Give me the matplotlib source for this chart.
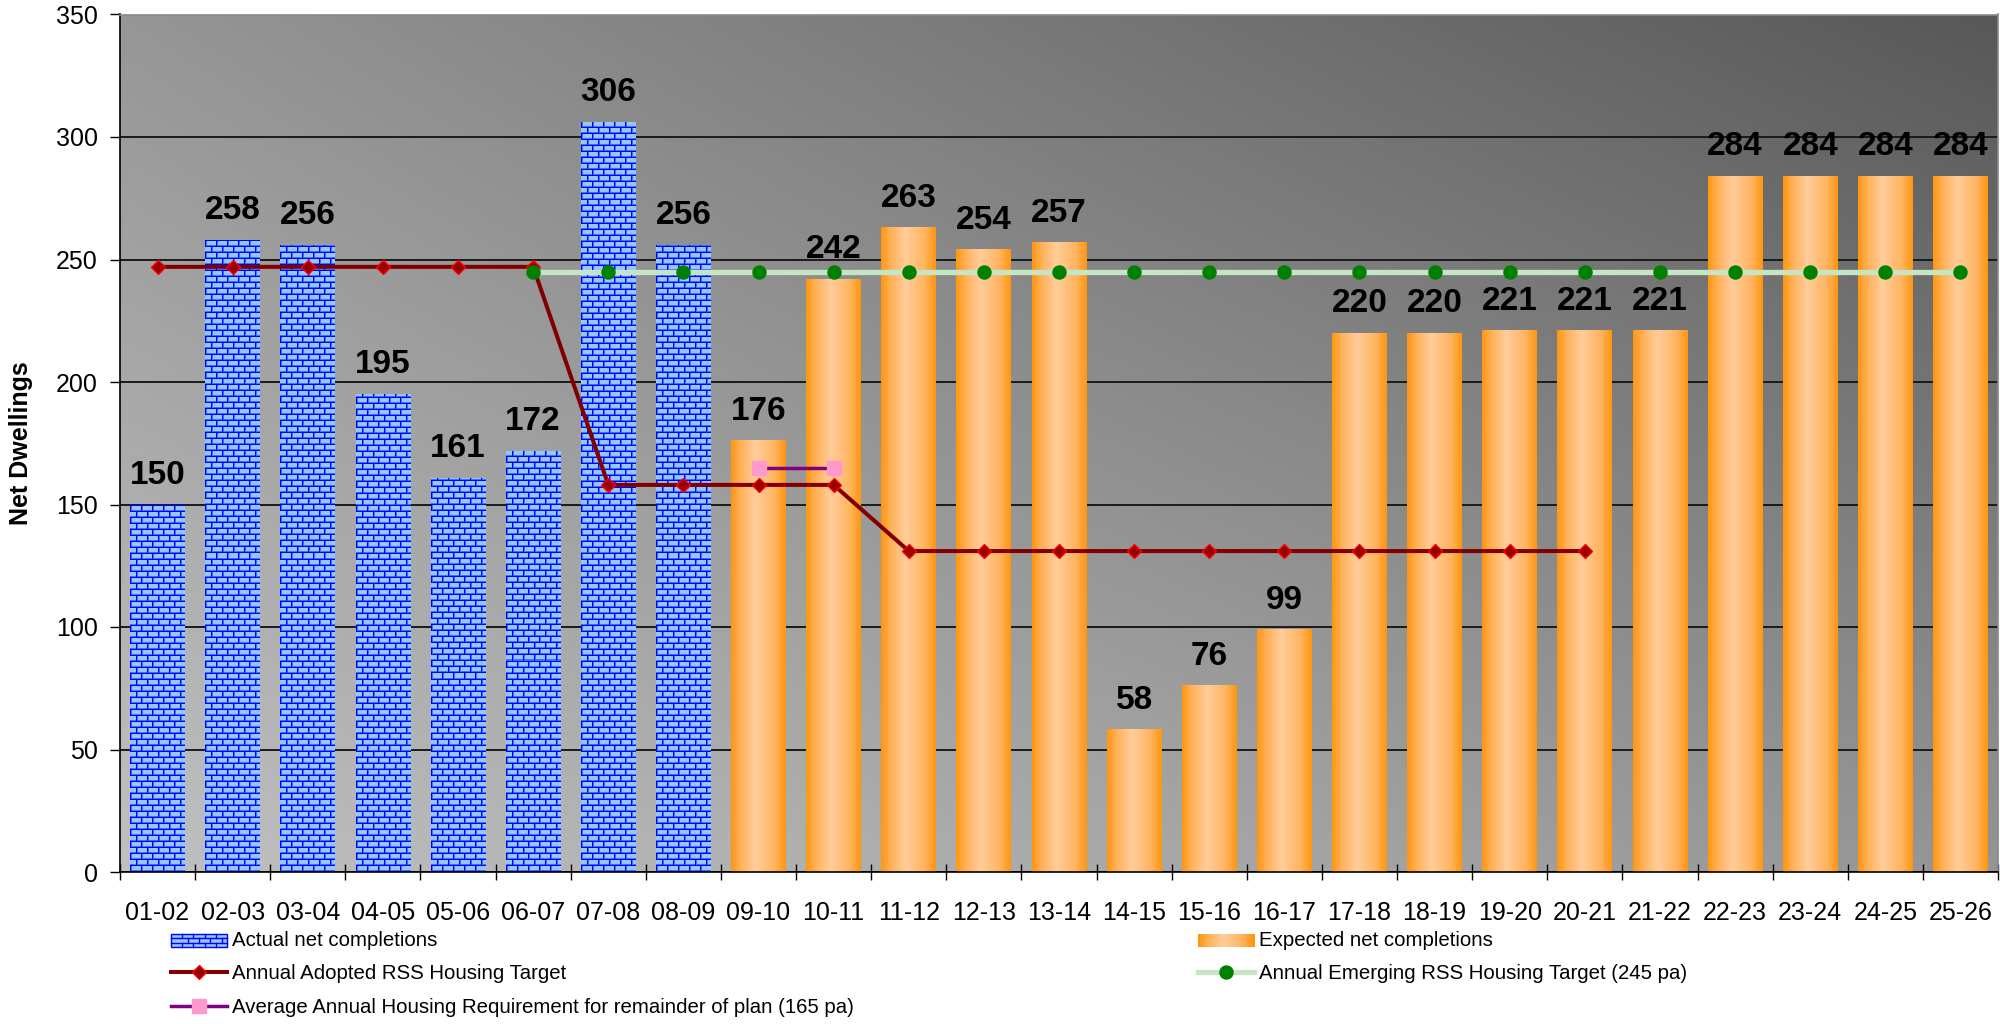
import matplotlib
matplotlib.use("Agg")
import matplotlib.pyplot as plt
import numpy as np
from matplotlib.lines import Line2D
from matplotlib.patches import Rectangle, Patch
from matplotlib.legend_handler import HandlerBase

plt.rcParams['font.family'] = ['Liberation Sans', 'DejaVu Sans']

years = ["01-02", "02-03", "03-04", "04-05", "05-06", "06-07", "07-08", "08-09",
         "09-10", "10-11", "11-12", "12-13", "13-14", "14-15", "15-16", "16-17",
         "17-18", "18-19", "19-20", "20-21", "21-22", "22-23", "23-24", "24-25", "25-26"]
actual = [150, 258, 256, 195, 161, 172, 306, 256]
expected = [176, 242, 263, 254, 257, 58, 76, 99, 220, 220, 221, 221, 221, 284, 284, 284, 284]
adopted_target = [247, 247, 247, 247, 247, 247, 158, 158, 158, 158,
                  131, 131, 131, 131, 131, 131, 131, 131, 131, 131]
emerging_target = [245, 245, 245, 245, 245, 245, 245, 245, 245, 245,
                   245, 245, 245, 245, 245, 245, 245, 245, 245, 245]
emerging_start = "06-07"
average_req = [165, 165]
average_start = "09-10"
y_ticks = [0, 50, 100, 150, 200, 250, 300, 350]

BRICK_FACE = np.array([150, 198, 255]) / 255
BRICK_MID = np.array([60, 110, 255]) / 255
BRICK_LINE = np.array([0, 0, 255]) / 255


def brick_texture(w, h, py=6, px=11):
    img = np.empty((h, w, 3))
    img[:] = BRICK_FACE
    rows = np.arange(h)[:, None] * np.ones((1, w), dtype=int)
    cols = np.ones((h, 1), dtype=int) * np.arange(w)[None, :]
    k = rows // py
    rr = rows % py
    cc = (cols + (k % 2) * (px // 2)) % px
    img[(rr == 1) | (cc == 1)] = BRICK_MID
    img[(rr == 0) | (cc == 0)] = BRICK_LINE
    return img


def orange_gradient(n=80):
    stops = [0.0, 0.18, 0.45, 0.8, 1.0]
    cols = np.array([[255, 150, 15], [255, 178, 90], [255, 205, 155],
                     [255, 180, 95], [255, 150, 15]]) / 255
    t = np.linspace(0, 1, n)
    g = np.stack([np.interp(t, stops, cols[:, c]) for c in range(3)], axis=-1)
    return g[None, :, :]


class BrickHandler(HandlerBase):
    def legend_artist(self, legend, orig_handle, fontsize, handlebox):
        x0, y0 = handlebox.xdescent, handlebox.ydescent
        w, h = handlebox.width, handlebox.height
        tr = handlebox.get_transform()
        r = Rectangle((x0, y0), w, h, fc=BRICK_FACE, ec=BRICK_LINE, lw=1, transform=tr)
        handlebox.add_artist(r)
        nrow = 3
        for j in range(1, nrow):
            handlebox.add_artist(Line2D([x0, x0 + w], [y0 + j * h / nrow] * 2,
                                        color=BRICK_LINE, lw=1, transform=tr))
        bw = w / 5
        for j in range(nrow):
            off = (j % 2) * bw / 2
            xs = np.arange(x0 + off + bw, x0 + w, bw)
            for xv in xs:
                handlebox.add_artist(Line2D([xv, xv], [y0 + j * h / nrow, y0 + (j + 1) * h / nrow],
                                            color=BRICK_LINE, lw=1, transform=tr))
        return r


class OrangeHandler(HandlerBase):
    def legend_artist(self, legend, orig_handle, fontsize, handlebox):
        x0, y0 = handlebox.xdescent, handlebox.ydescent
        w, h = handlebox.width, handlebox.height
        tr = handlebox.get_transform()
        g = orange_gradient(24)[0]
        n = len(g)
        for i in range(n):
            handlebox.add_artist(Rectangle((x0 + i * w / n, y0), w / n + 0.3, h, fc=g[i],
                                           ec='none', transform=tr))
        return Rectangle((x0, y0), w, h, fc='none', ec='none', transform=tr)


fig = plt.figure(figsize=(20, 10.24), dpi=100)
ax = fig.add_axes([0.06, 1 - 872 / 1024, 0.939, (872 - 14.5) / 1024])
ax.set_xlim(-0.5, len(years) - 0.5)
ax.set_ylim(0, 350)

# background gradient
yy, xx = np.mgrid[0:1:100j, 0:1:100j]
bg = (192 - 43 * xx - 42 * yy - 19 * xx * yy) / 255
ax.imshow(np.dstack([bg, bg, bg]), extent=(0, 1, 0, 1), transform=ax.transAxes,
          aspect='auto', origin='lower', zorder=0, interpolation='bilinear')

x = np.arange(len(years))
x_act = x[:len(actual)]
x_exp = x[len(actual):]
bar_w = 0.73

act_bars = ax.bar(x_act, actual, width=bar_w, color='none', edgecolor='none', zorder=1)
exp_bars = ax.bar(x_exp, expected, width=bar_w, color='none', edgecolor='none', zorder=1)

for rect in act_bars:
    x0, h, w = rect.get_x(), rect.get_height(), rect.get_width()
    p0 = ax.transData.transform((x0, 0))
    p1 = ax.transData.transform((x0 + w, h))
    pw, ph = int(round(p1[0] - p0[0])), int(round(p1[1] - p0[1]))
    im = ax.imshow(brick_texture(pw, ph), extent=(x0, x0 + w, 0, h), origin='lower',
                   aspect='auto', interpolation='nearest', zorder=1)
    im.set_clip_path(rect)

grad = orange_gradient()
for rect in exp_bars:
    x0, h, w = rect.get_x(), rect.get_height(), rect.get_width()
    im = ax.imshow(grad, extent=(x0, x0 + w, 0, h), origin='lower',
                   aspect='auto', interpolation='bilinear', zorder=1)

ax.set_xlim(-0.5, len(years) - 0.5)
ax.set_ylim(0, 350)

# target lines
x_adopt = x[:len(adopted_target)]
ax.plot(x_adopt, adopted_target, color='#800000', lw=2.9, marker='D', ms=6.8,
        mfc='#990000', mec='#ff0000', mew=1, zorder=3)
e0 = years.index(emerging_start)
x_emerg = x[e0:e0 + len(emerging_target)]
ax.plot(x_emerg, emerging_target, color='#c4e6c4', lw=3.8, marker='o', ms=9.4,
        mfc='#008000', mec='#008000', zorder=3)
a0 = years.index(average_start)
x_avg = x[a0:a0 + len(average_req)]
ax.plot(x_avg, average_req, color='#800080', lw=2.5, marker='s', ms=9.5,
        mfc='#ff99cc', mec='#ff99cc', zorder=3)

# value labels
for xv, v in zip(x_act, actual):
    ax.annotate(str(v), (xv, v), xytext=(0, 15), textcoords='offset points',
                ha='center', va='baseline', fontsize=24, fontweight='bold', zorder=5)
for xv, v in zip(x_exp, expected):
    ax.annotate(str(v), (xv, v), xytext=(0, 15), textcoords='offset points',
                ha='center', va='baseline', fontsize=24, fontweight='bold', zorder=5)

# axes styling
ax.set_yticks(y_ticks)
ax.yaxis.grid(True, color='#1a1a1a', lw=1.4)
ax.set_axisbelow(True)
ax.tick_params(axis='y', direction='out', length=7, width=1, pad=9, labelsize=18)
ax.set_xticks(x)
ax.set_xticklabels(years, fontsize=18)
ax.set_xticks(np.arange(len(years) + 1) - 0.5, minor=True)
ax.tick_params(axis='x', which='major', length=0, pad=21)
ax.tick_params(axis='x', which='minor', direction='inout', length=12, width=1)
for s in ['left', 'bottom']:
    ax.spines[s].set_color('black')
    ax.spines[s].set_linewidth(1.2)
for s in ['top', 'right']:
    ax.spines[s].set_color('#8a8a8a')
    ax.spines[s].set_linewidth(1.2)
ax.set_ylabel('Net Dwellings', fontsize=18, fontweight='bold')
ax.yaxis.set_label_coords(-0.0463, 0.5)

# legends
h_act = Patch(label='Actual net completions')
h_exp = Patch(label='Expected net completions')
h_adopt = Line2D([], [], color='#800000', lw=2.9, marker='D', ms=6.8, mfc='#990000',
                 mec='#ff0000', label='Annual Adopted RSS Housing Target')
h_avg = Line2D([], [], color='#800080', lw=2.5, marker='s', ms=9.5, mfc='#ff99cc',
               mec='#ff99cc', label='Average Annual Housing Requirement for remainder of plan (165 pa)')
h_emerg = Line2D([], [], color='#c4e6c4', lw=3.8, marker='o', ms=9.4, mfc='#008000',
                 mec='#008000', label='Annual Emerging RSS Housing Target (245 pa)')

leg_kw = dict(frameon=False, prop={'size': 14.7},
              handlelength=2.75, handleheight=0.59, handletextpad=0.25,
              labelspacing=0.7, borderpad=0, borderaxespad=0, loc='upper left',
              handler_map={h_act: BrickHandler(), h_exp: OrangeHandler()})
fig.legend(handles=[h_act, h_adopt, h_avg], bbox_to_anchor=(0.0855, 1 - 931 / 1024), **leg_kw)
fig.legend(handles=[h_exp, h_emerg], bbox_to_anchor=(0.599, 1 - 931 / 1024), **leg_kw)

fig.savefig('out.png', dpi=100)
